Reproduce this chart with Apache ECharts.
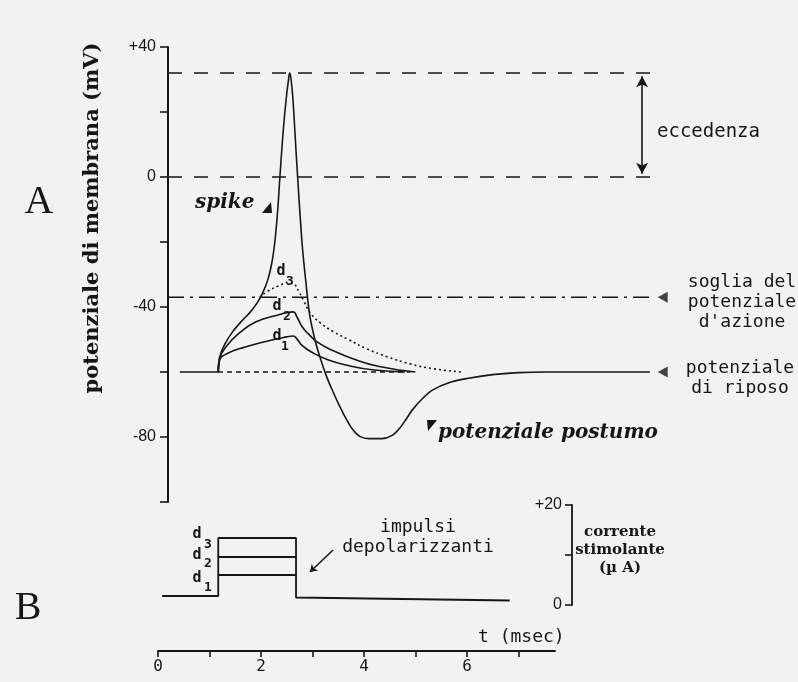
<!DOCTYPE html>
<html><head><meta charset="utf-8">
<script src="https://cdn.jsdelivr.net/npm/echarts@6/dist/echarts.min.js"></script>
<style>html,body{margin:0;padding:0;background:#f2f2ee}#c{width:798px;height:682px}</style>
</head><body><div id="c"></div>
<script>
// ---- Panel A: membrane potential (mV) vs time (ms) ----
const spikeT = [0.43,1.17,1.2,1.3,1.46,1.65,1.8,1.94,2.04,2.14,2.22,2.28,2.33,2.38,2.44,2.5,2.54,2.56,2.58,2.62,2.7,2.8,2.88,2.95,3.05,3.15,3.28,3.4,3.53,3.66,3.79,3.92,4.1,4.35,4.55,4.7,4.83,4.95,5.15,5.34,5.65,6.0,6.5,7.0,7.5,9.55];
const spikeV = [-60,-60,-55.5,-51.5,-47.5,-44,-41.5,-38.5,-35.6,-31.5,-26,-19,-10,2,15,25,30,32,31,25,4,-20,-33,-42.5,-50,-55.5,-61.5,-66,-70.5,-74.5,-77.8,-79.8,-80.5,-80.5,-79.5,-77.2,-74.3,-71.5,-68,-65.5,-63.3,-62,-60.8,-60.2,-60,-60];
const d1T = [1.17,1.2,1.35,1.7,2.1,2.5,2.63,2.7,2.8,3.0,3.3,3.7,4.2,4.8];
const d1V = [-60,-56.5,-54.3,-52.3,-50.6,-49.2,-48.9,-49.8,-51.8,-54,-56.2,-58,-59.4,-60];
const d2T = [1.17,1.2,1.35,1.6,1.9,2.3,2.63,2.7,2.8,2.92,3.1,3.4,3.8,4.3,5.0];
const d2V = [-60,-56,-51.8,-47.8,-44.6,-42.6,-41.5,-43,-46,-48.2,-50.8,-53.4,-56,-58.3,-60];
const d3T = [1.98,2.15,2.35,2.55,2.64,2.74,2.84,2.96,3.15,3.4,3.7,4.05,4.45,4.9,5.35,5.9];
const d3V = [-37,-35,-33.5,-32.4,-32.8,-35.3,-38.3,-41.8,-44.8,-47.5,-50,-52.8,-55.3,-57.5,-59,-60];
const restDashT = [1.17,4.9];          const restLevel = -60;
const thresholdT = [0.2,9.6];          const thresholdLevel = -37;
const refDashT = [0.2,9.69];           const peakLevel = 32;  const zeroLevel = 0;
const endMarkerT = 9.8;
const overshootT = 9.4;
const yTicksA = [40,0,-40,-80];  const yLabelsA = ['+40','0','-40','-80'];

// ---- Panel B: stimulating current (µA) ----
const stimT = [0.08,1.17,1.17,2.68,2.68,6.83];
const stimI = [1.8,1.8,13.4,13.4,1.5,0.9];
const pulseT = [1.17,2.68];
const pulseD1 = [6,6];
const pulseD2 = [9.6,9.6];
const yTicksB = [20,0];  const yLabelsB = ['+20','0'];

// ---- time axis ----
const timeTicks = [0,1,2,3,4,5,6,7];
const timeLabels = [0,2,4,6];

const zip = (a,b)=>a.map((x,i)=>[x,b[i]]);
const INK = '#161616';
const plotterFont = '"DejaVu Sans Mono"';

const lineSeries = (name, data, style, extra) => Object.assign({
  name, type:'line', xAxisIndex:0, yAxisIndex:0, data,
  showSymbol:false, symbol:'none', silent:true,
  lineStyle:Object.assign({color:INK, width:1.6}, style)
}, extra||{});

const chart = echarts.init(document.getElementById('c'), null, {renderer:'canvas'});
const option = {
  backgroundColor:'#f2f2ee',
  animation:false,
  grid:[
    {left:168, top:47, width:505, height:455},
    {left:158, top:505, width:414, height:100},
    {left:158, top:640, width:397, height:11}
  ],
  xAxis:[
    {gridIndex:0, type:'value', min:0.2, max:10, show:false},
    {gridIndex:1, type:'value', min:0, max:8.039, show:false},
    {gridIndex:2, type:'value', min:0, max:7.709,
     axisLine:{show:true, onZero:false, lineStyle:{color:INK, width:1.8}},
     axisTick:{show:true, customValues:timeTicks, length:6, lineStyle:{color:INK, width:1.6}},
     axisLabel:{show:true, customValues:timeLabels, color:INK, fontSize:16, fontFamily:plotterFont, margin:8},
     splitLine:{show:false}}
  ],
  yAxis:[
    {gridIndex:0, type:'value', min:-100, max:40, interval:20,
     axisLine:{show:true, onZero:false, lineStyle:{color:INK, width:2}},
     axisTick:{show:true, length:8, lineStyle:{color:INK, width:1.6}},
     axisLabel:{color:INK, fontSize:16, fontFamily:'"Liberation Sans"', margin:12,
       formatter:v=>{const i=yTicksA.indexOf(v);return i>=0?yLabelsA[i]:'';}},
     splitLine:{show:false}},
    {gridIndex:1, type:'value', position:'right', min:0, max:20, interval:10,
     axisLine:{show:true, onZero:false, lineStyle:{color:INK, width:1.8}},
     axisTick:{show:true, inside:true, length:7, lineStyle:{color:INK, width:1.6}},
     axisLabel:{inside:true, color:INK, fontSize:16, fontFamily:'"Liberation Sans"', margin:10,
       formatter:v=>{const i=yTicksB.indexOf(v);return i>=0?yLabelsB[i]:'';}},
     splitLine:{show:false}},
    {gridIndex:2, type:'value', show:false, min:0, max:1}
  ],
  series:[
    lineSeries('dash peak', refDashT.map(t=>[t,peakLevel]), {type:[14,12], width:1.5}),
    lineSeries('dash zero', refDashT.map(t=>[t,zeroLevel]), {type:[14,12], width:1.5}),
    lineSeries('soglia', thresholdT.map(t=>[t,thresholdLevel]), {type:[16,6,3,6], width:1.5}),
    lineSeries('riposo', restDashT.map(t=>[t,restLevel]), {type:[5,4], width:1.5}),
    lineSeries('d1', zip(d1T,d1V), {}, {smooth:0.5}),
    lineSeries('d2', zip(d2T,d2V), {}, {smooth:0.5}),
    lineSeries('d3', zip(d3T,d3V), {type:[2,3], width:1.6}, {smooth:0.5}),
    lineSeries('spike', zip(spikeT,spikeV), {width:1.6}, {smooth:0.35,
      markLine:{silent:true, symbol:['arrow','arrow'], symbolSize:[9,11],
        lineStyle:{color:INK, width:1.6, type:'solid'}, label:{show:false},
        data:[[{coord:[overshootT,peakLevel-1]},{coord:[overshootT,zeroLevel+1]}]]}}),
    {name:'markers', type:'scatter', xAxisIndex:0, yAxisIndex:0, silent:true,
     symbol:'triangle', symbolRotate:90, symbolSize:[11,10], itemStyle:{color:INK},
     data:[[endMarkerT,thresholdLevel],[endMarkerT,restLevel]]},
    {name:'stimolo', type:'line', xAxisIndex:1, yAxisIndex:1, data:zip(stimT,stimI),
     showSymbol:false, symbol:'none', silent:true, lineStyle:{color:INK, width:1.8},
     markLine:{silent:true, symbol:['none','arrow'], symbolSize:7,
       lineStyle:{color:INK, width:1.5, type:'solid'}, label:{show:false},
       data:[[{coord:[3.4,11]},{coord:[2.95,6.6]}]]}},
    {name:'stim d1', type:'line', xAxisIndex:1, yAxisIndex:1, data:zip(pulseT,pulseD1),
     showSymbol:false, symbol:'none', silent:true, lineStyle:{color:INK, width:1.8}},
    {name:'stim d2', type:'line', xAxisIndex:1, yAxisIndex:1, data:zip(pulseT,pulseD2),
     showSymbol:false, symbol:'none', silent:true, lineStyle:{color:INK, width:1.8}}
  ],
  graphic:[
    {type:'text', x:39, y:202, style:{text:'A', font:'40px "Liberation Serif"', fill:INK, textAlign:'center', textVerticalAlign:'middle'}},
    {type:'text', x:28, y:608, style:{text:'B', font:'40px "Liberation Serif"', fill:INK, textAlign:'center', textVerticalAlign:'middle'}},
    {type:'text', x:93, y:218, rotation:Math.PI/2, style:{text:'potenziale di membrana (mV)', font:'bold 21px "DejaVu Serif"', fill:INK, textAlign:'center', textVerticalAlign:'middle'}},
    {type:'text', x:195, y:203, style:{text:'spike', font:'italic bold 20px "DejaVu Serif"', fill:INK, textAlign:'left', textVerticalAlign:'middle'}},
    {type:'polygon', shape:{points:[[262,213],[272,213],[271,202]]}, style:{fill:INK}},
    {type:'text', x:438, y:433, style:{text:'potenziale postumo', font:'italic bold 20px "DejaVu Serif"', fill:INK, textAlign:'left', textVerticalAlign:'middle'}},
    {type:'polygon', shape:{points:[[427,420],[437,420],[428,431]]}, style:{fill:INK}},
    {type:'text', x:657, y:132, style:{text:'eccedenza', font:'19px '+plotterFont, fill:INK, textAlign:'left', textVerticalAlign:'middle'}},
    {type:'text', x:742, y:302, style:{text:'soglia del\npotenziale\nd\'azione', font:'18px '+plotterFont, lineHeight:20, fill:INK, textAlign:'center', textVerticalAlign:'middle'}},
    {type:'text', x:740, y:378, style:{text:'potenziale\ndi riposo', font:'18px '+plotterFont, lineHeight:20, fill:INK, textAlign:'center', textVerticalAlign:'middle'}},
    {type:'text', x:418, y:537, style:{text:'impulsi\ndepolarizzanti', font:'18px '+plotterFont, lineHeight:20, fill:INK, textAlign:'center', textVerticalAlign:'middle'}},
    {type:'text', x:620, y:550, style:{text:'corrente\nstimolante\n(µ A)', font:'bold 15px "DejaVu Serif"', lineHeight:18, fill:INK, textAlign:'center', textVerticalAlign:'middle'}},
    {type:'text', x:478, y:637, style:{text:'t (msec)', font:'18px '+plotterFont, fill:INK, textAlign:'left', textVerticalAlign:'middle'}},
    // d labels panel A
    {type:'text', x:281, y:271, style:{text:'d', font:'bold 15px '+plotterFont, fill:INK, textAlign:'center', textVerticalAlign:'middle'}},
    {type:'text', x:290, y:282, style:{text:'3', font:'bold 13px '+plotterFont, fill:INK, textAlign:'center', textVerticalAlign:'middle'}},
    {type:'text', x:277, y:306, style:{text:'d', font:'bold 15px '+plotterFont, fill:INK, textAlign:'center', textVerticalAlign:'middle'}},
    {type:'text', x:287, y:317, style:{text:'2', font:'bold 13px '+plotterFont, fill:INK, textAlign:'center', textVerticalAlign:'middle'}},
    {type:'text', x:277, y:336, style:{text:'d', font:'bold 15px '+plotterFont, fill:INK, textAlign:'center', textVerticalAlign:'middle'}},
    {type:'text', x:285, y:347, style:{text:'1', font:'bold 13px '+plotterFont, fill:INK, textAlign:'center', textVerticalAlign:'middle'}},
    // d labels panel B
    {type:'text', x:197, y:534, style:{text:'d', font:'bold 15px '+plotterFont, fill:INK, textAlign:'center', textVerticalAlign:'middle'}},
    {type:'text', x:208, y:545, style:{text:'3', font:'bold 13px '+plotterFont, fill:INK, textAlign:'center', textVerticalAlign:'middle'}},
    {type:'text', x:197, y:555, style:{text:'d', font:'bold 15px '+plotterFont, fill:INK, textAlign:'center', textVerticalAlign:'middle'}},
    {type:'text', x:208, y:564, style:{text:'2', font:'bold 13px '+plotterFont, fill:INK, textAlign:'center', textVerticalAlign:'middle'}},
    {type:'text', x:197, y:578, style:{text:'d', font:'bold 15px '+plotterFont, fill:INK, textAlign:'center', textVerticalAlign:'middle'}},
    {type:'text', x:208, y:588, style:{text:'1', font:'bold 13px '+plotterFont, fill:INK, textAlign:'center', textVerticalAlign:'middle'}}
  ]
};
chart.setOption(option);
</script></body></html>
